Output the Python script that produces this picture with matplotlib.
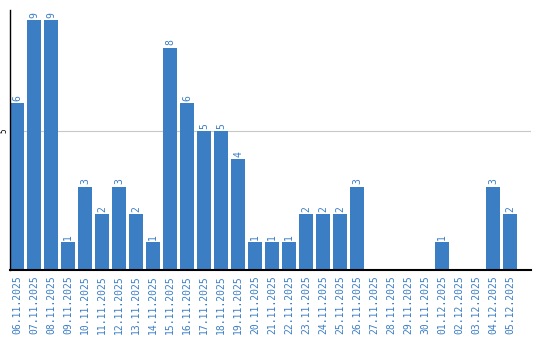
import numpy as np
import matplotlib.pyplot as plt

dates = ["06.11.2025", "07.11.2025", "08.11.2025", "09.11.2025", "10.11.2025",
         "11.11.2025", "12.11.2025", "13.11.2025", "14.11.2025", "15.11.2025",
         "16.11.2025", "17.11.2025", "18.11.2025", "19.11.2025", "20.11.2025",
         "21.11.2025", "22.11.2025", "23.11.2025", "24.11.2025", "25.11.2025",
         "26.11.2025", "27.11.2025", "28.11.2025", "29.11.2025", "30.11.2025",
         "01.12.2025", "02.12.2025", "03.12.2025", "04.12.2025", "05.12.2025"]
counts = [6, 9, 9, 1, 3, 2, 3, 2, 1, 8, 6, 5, 5, 4, 1, 1, 1, 2, 2, 2, 3,
          0, 0, 0, 0, 1, 0, 0, 3, 2]

blue = "#3b7ec4"
fig = plt.figure(figsize=(5.4, 3.4), dpi=100)
ax = fig.add_axes([10/540, 70/340, 521/540, 260/340])

x = np.arange(len(dates))
bars = ax.bar(x, counts, width=14/17, color=blue, zorder=2)
for xi, v in zip(x, counts):
    if v > 0:
        ax.text(xi, v + 0.08, str(v), rotation=90, ha="center", va="bottom",
                color=blue, fontsize=7, family="DejaVu Sans Mono")

ax.set_xlim(-7/17, -7/17 + 521/17)
ax.set_ylim(0, 260/27.8)
ax.set_yticks([5])
ax.set_yticklabels(["5"], rotation=90, va="center", fontsize=5.5,
                   family="DejaVu Sans Mono")
ax.yaxis.grid(True, color="#c8c8c8", lw=0.8, zorder=1)
ax.tick_params(axis="y", length=0, pad=1)
ax.set_xticks(x)
ax.set_xticklabels(dates, rotation=90, fontsize=7, color=blue,
                   family="DejaVu Sans Mono")
ax.tick_params(axis="x", length=0, pad=4)
for s in ["top", "right"]:
    ax.spines[s].set_visible(False)
ax.spines["left"].set_linewidth(1.0)
ax.spines["bottom"].set_linewidth(1.5)

fig.savefig("out.png", dpi=100)
